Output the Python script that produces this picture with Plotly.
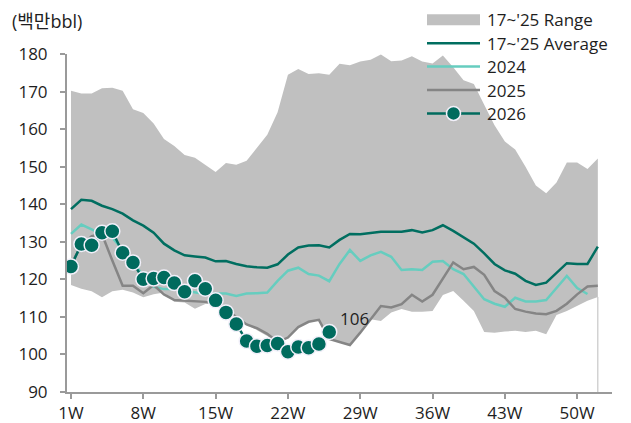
import plotly.graph_objects as go

# ---------------- data ----------------
weeks = list(range(1, 53))
tick_weeks = [1, 8, 15, 22, 29, 36, 43, 50]
tick_labels = ["1W", "8W", "15W", "22W", "29W", "36W", "43W", "50W"]

range_upper = [170.2, 169.5, 169.5, 170.9, 171.0, 170.2, 165.3, 164.3, 161.5, 157.4,
               155.5, 153.1, 152.4, 150.5, 148.6, 151.0, 150.5, 151.6, 155.1, 158.5,
               164.5, 174.5, 176.0, 174.7, 174.9, 174.5, 177.4, 177.0, 178.0, 178.5,
               179.9, 178.1, 178.3, 179.4, 178.0, 177.5, 179.6, 176.5, 173.0, 172.0,
               166.5, 161.0, 156.7, 154.6, 150.0, 145.0, 142.9, 145.8, 151.1, 151.1,
               149.4, 152.2]
range_lower = [118.5, 117.5, 116.8, 115.2, 116.8, 117.2, 116.5, 115.2, 116.0, 116.5,
               114.0, 113.8, 112.2, 113.4, 113.8, 111.6, 109.4, 108.0, 106.5, 105.0,
               103.3, 104.5, 107.3, 108.7, 109.2, 104.1, 103.3, 102.5, 105.8, 109.4,
               108.9, 111.2, 112.1, 111.4, 111.4, 111.6, 115.8, 116.9, 114.3, 111.6,
               106.0, 105.8, 106.1, 106.3, 106.0, 106.3, 105.4, 110.5, 111.6, 112.9,
               114.3, 115.3]
average = [138.7, 141.2, 140.9, 139.6, 138.7, 137.5, 135.7, 134.3, 132.4, 129.5,
           127.7, 126.4, 126.1, 125.8, 124.8, 124.9, 124.1, 123.5, 123.2, 123.1,
           124.0, 126.6, 128.5, 129.0, 129.1, 128.5, 130.5, 132.1, 132.0, 132.4,
           132.7, 132.7, 132.7, 133.1, 132.5, 133.1, 134.4, 132.9, 131.3, 129.5,
           126.9, 124.1, 122.4, 121.5, 119.6, 118.5, 119.1, 121.8, 124.3, 124.1,
           124.1, 128.7]
y2024 = [132.1, 134.6, 133.3, 132.0, 131.0, 128.0, 124.5, 121.0, 118.0, 117.4,
         117.4, 117.0, 116.5, 116.1, 116.2, 116.2, 115.6, 116.2, 116.3, 116.5,
         119.6, 122.3, 123.1, 121.4, 121.0, 119.5, 124.1, 127.8, 124.9, 126.4,
         127.3, 126.0, 122.5, 122.7, 122.5, 124.7, 124.9, 122.7, 121.4, 118.0,
         114.7, 113.5, 112.7, 115.1, 114.1, 114.1, 114.5, 117.7, 120.9, 117.7,
         116.1]
y2025 = [124.0, 129.0, 131.5, 132.0, 125.0, 118.3, 118.3, 116.3, 118.5, 116.0,
         114.5, 114.3, 114.2, 114.0, 113.5, 112.0, 110.0, 108.0, 107.0, 105.5,
         103.3, 104.5, 107.3, 108.7, 109.2, 104.1, 103.3, 102.5, 105.8, 109.5,
         112.9, 112.5, 113.4, 115.9, 114.1, 115.9, 120.1, 124.5, 122.7, 123.3,
         121.2, 116.9, 115.1, 112.1, 111.4, 110.9, 110.7, 111.6, 113.5, 116.0,
         118.1, 118.3]
y2026 = [123.4, 129.4, 129.1, 132.4, 132.8, 127.1, 124.5, 120.0, 120.2, 120.5,
         119.0, 116.7, 119.6, 117.5, 114.4, 111.2, 108.1, 103.6, 102.2, 102.4,
         102.9, 100.7, 102.0, 101.8, 102.8, 106.0]

series_names = ["17~'25 Range", "17~'25 Average", "2024", "2025", "2026"]
unit_label = "(백만bbl)"

# ---------------- style ----------------
C_RANGE = "#C0C0C0"
C_AVG = "#006E60"
C_2024 = "#66CDBF"
C_2025 = "#858585"
C_2026 = "#006B5E"
C_AXIS = "#9A9A9A"
C_TEXT = "#1E1E1E"
FONT = "Open Sans, Noto Sans CJK KR"

OFF = 8  # page body margin
PAGE_W, PAGE_H = 631, 423
W_FIG, H_FIG = PAGE_W - OFF, PAGE_H - OFF
# plot area in page pixels
P_LEFT, P_RIGHT, P_TOP, P_BOTTOM = 67, 612, 54, 392
ML = P_LEFT - OFF
MT = P_TOP - OFF
MR = W_FIG - (P_RIGHT - OFF)
MB = H_FIG - (P_BOTTOM - OFF)
PW, PH = W_FIG - ML - MR, H_FIG - MT - MB


def px(x):
    return (x - P_LEFT) / PW


def py(y):
    return (P_BOTTOM - y) / PH


fig = go.Figure()

# range band
fig.add_trace(go.Scatter(x=weeks, y=range_lower, mode="lines",
                         line=dict(width=0, color=C_RANGE), showlegend=False,
                         hoverinfo="skip"))
fig.add_trace(go.Scatter(x=weeks, y=range_upper, mode="lines", fill="tonexty",
                         fillcolor=C_RANGE, line=dict(width=0, color=C_RANGE),
                         name=series_names[0], showlegend=False))
fig.add_trace(go.Scatter(x=[weeks[-1], weeks[-1]], y=[90, range_lower[-1]], mode="lines",
                         line=dict(width=1, color="#BDBDBD"), showlegend=False,
                         hoverinfo="skip"))

fig.add_trace(go.Scatter(x=weeks, y=average, mode="lines",
                         line=dict(width=2.5, color=C_AVG), name=series_names[1],
                         showlegend=False))
fig.add_trace(go.Scatter(x=weeks[:len(y2024)], y=y2024, mode="lines",
                         line=dict(width=2.5, color=C_2024), name=series_names[2],
                         showlegend=False))
fig.add_trace(go.Scatter(x=weeks[:len(y2025)], y=y2025, mode="lines",
                         line=dict(width=2.5, color=C_2025), name=series_names[3],
                         showlegend=False))
fig.add_trace(go.Scatter(x=weeks[:len(y2026)], y=y2026, mode="lines+markers",
                         line=dict(width=2.5, color=C_2026),
                         marker=dict(size=15, color=C_2026,
                                     line=dict(width=1.5, color="#F2F0FA")),
                         name=series_names[4], showlegend=False))

# last value label
fig.add_annotation(x=len(y2026), y=y2026[-1], text=f"{y2026[-1]:.0f}",
                   showarrow=False, xanchor="left", yanchor="middle",
                   xshift=9, yshift=13, font=dict(size=17, color=C_TEXT, family=FONT))

# unit label
fig.add_annotation(xref="paper", yref="paper", x=px(10), y=py(20.8), text=unit_label,
                   showarrow=False, xanchor="left", yanchor="middle",
                   font=dict(size=18, color=C_TEXT, family=FONT))

# ---------------- custom legend ----------------
leg_x0, leg_x1, leg_text_x = 427, 480, 485
rows = [19.8, 43.2, 66.6, 90.0, 113.4]
shapes = []
shapes.append(dict(type="rect", xref="paper", yref="paper",
                   x0=px(leg_x0), x1=px(leg_x1), y0=py(rows[0] + 5.5), y1=py(rows[0] - 5.5),
                   fillcolor=C_RANGE, line=dict(width=0), layer="above"))
for r, c in zip(rows[1:], [C_AVG, C_2024, C_2025, C_2026]):
    shapes.append(dict(type="line", xref="paper", yref="paper",
                       x0=px(leg_x0), x1=px(leg_x1), y0=py(r), y1=py(r),
                       line=dict(width=2.5, color=c), layer="above"))
cx = (leg_x0 + leg_x1) / 2
shapes.append(dict(type="circle", xref="paper", yref="paper",
                   x0=px(cx - 7), x1=px(cx + 7), y0=py(rows[4] + 7), y1=py(rows[4] - 7),
                   fillcolor=C_2026, line=dict(width=1.5, color="#F2F0FA"), layer="above"))
for r, name in zip(rows, series_names):
    fig.add_annotation(xref="paper", yref="paper", x=px(leg_text_x), y=py(r), text=name,
                       showarrow=False, xanchor="left", yanchor="middle",
                       font=dict(size=17, color=C_TEXT, family=FONT))

x_start = weeks[0] - (71 - P_LEFT) / 10.33
fig.update_layout(
    width=W_FIG, height=H_FIG,
    margin=dict(l=ML, r=MR, t=MT, b=MB, autoexpand=False),
    paper_bgcolor="white", plot_bgcolor="white",
    font=dict(family=FONT, color=C_TEXT, size=17),
    shapes=shapes,
    showlegend=False,
    xaxis=dict(range=[x_start, x_start + PW / 10.33], tickmode="array",
               tickvals=tick_weeks, ticktext=tick_labels, showgrid=False, zeroline=False,
               showline=True, linecolor=C_AXIS, linewidth=2, ticks="outside",
               ticklen=5, tickwidth=1.5, tickcolor=C_AXIS, automargin=False,
               tickfont=dict(size=17, color=C_TEXT, family=FONT)),
    yaxis=dict(range=[90, 180], dtick=10, tick0=90, showgrid=False, zeroline=False,
               showline=True, linecolor=C_AXIS, linewidth=2, ticks="outside",
               ticklen=5, tickwidth=1.5, tickcolor=C_AXIS, automargin=False,
               ticklabelstandoff=9,
               tickfont=dict(size=17, color=C_TEXT, family=FONT)),
)

fig.write_html("out.html")
